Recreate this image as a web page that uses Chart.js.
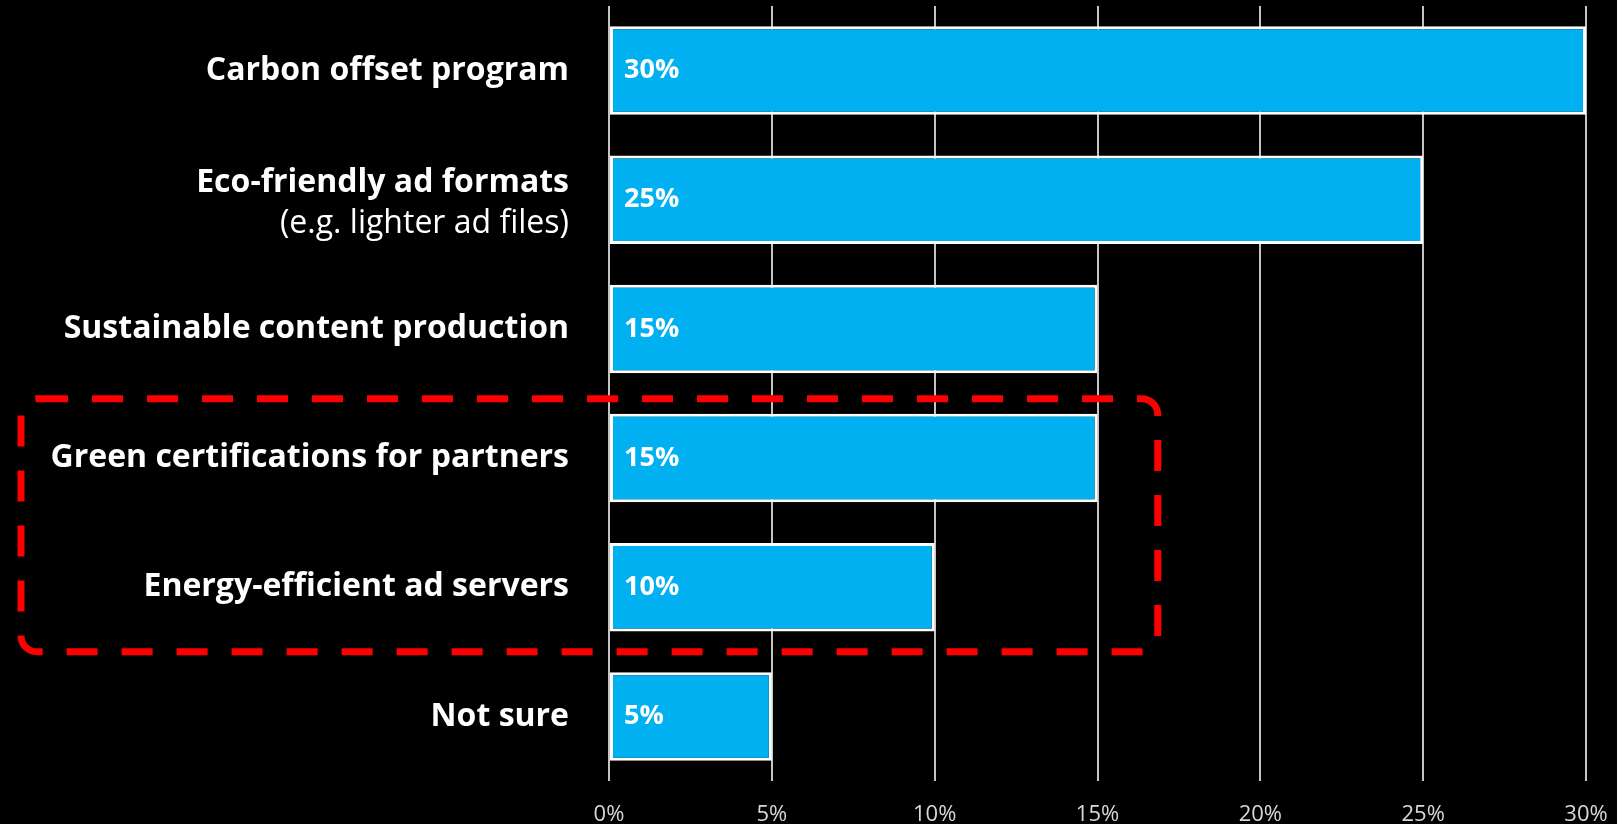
<!DOCTYPE html>
<html>
<head>
<meta charset="utf-8">
<script src="https://cdn.jsdelivr.net/npm/chart.js"></script>
<style>
  html, body { margin: 0; padding: 0; background: #000; }
  #wrap { width: 1617px; height: 824px; position: relative; }
</style>
</head>
<body>
<div id="wrap"><canvas id="chart"></canvas></div>
<script>
// 항목 이름 (첫 줄 굵게, 둘째 줄 보통)
const categories = [
  'Carbon offset program',
  'Eco-friendly ad formats',
  'Sustainable content production',
  'Green certifications for partners',
  'Energy-efficient ad servers',
  'Not sure'
];
const subLabels = ['', '(e.g. lighter ad files)', '', '', '', ''];
const shares = [30, 25, 15, 15, 10, 5];
const xTicks = [0, 5, 10, 15, 20, 25, 30];

// 강조 박스: 3, 4번째 사이 ~ 5, 6번째 사이, 오른쪽 끝 값
const highlightFrom = 2.54;
const highlightTo = 4.5;
const highlightRight = 16.85;

const FONT = "'Open Sans', 'Noto Sans', sans-serif";

/** 왼쪽 항목 라벨 그리기 */
const categoryLabels = {
  id: 'categoryLabels',
  afterDraw(chart) {
    const ctx = chart.ctx;
    const y = chart.scales.y;
    const x0 = chart.scales.x.left - 40;
    ctx.save();
    ctx.fillStyle = '#fff';
    ctx.textAlign = 'right';
    ctx.textBaseline = 'middle';
    categories.forEach((name, i) => {
      const cy = y.getPixelForValue(i);
      if (subLabels[i]) {
        ctx.font = `bold 32px ${FONT}`;
        ctx.fillText(name, x0, cy - 17);
        ctx.font = `32px ${FONT}`;
        ctx.fillText(subLabels[i], x0, cy + 24);
      } else {
        ctx.font = `bold 32px ${FONT}`;
        ctx.fillText(name, x0, cy);
      }
    });
    ctx.restore();
  }
};

/** 막대 안의 값 라벨 */
const valueLabels = {
  id: 'valueLabels',
  afterDatasetsDraw(chart) {
    const ctx = chart.ctx;
    const meta = chart.getDatasetMeta(0);
    const left = chart.scales.x.getPixelForValue(0);
    ctx.save();
    ctx.fillStyle = '#fff';
    ctx.font = `bold 27px ${FONT}`;
    ctx.textAlign = 'left';
    ctx.textBaseline = 'middle';
    meta.data.forEach((bar, i) => {
      ctx.fillText(shares[i] + '%', left + 15, bar.y);
    });
    ctx.restore();
  }
};

/** 빨간 점선 강조 박스 */
const highlightBox = {
  id: 'highlightBox',
  afterDraw(chart) {
    const ctx = chart.ctx;
    const x = chart.scales.x;
    const y = chart.scales.y;
    const left = 21;
    const right = x.getPixelForValue(highlightRight);
    const top = y.getPixelForValue(highlightFrom);
    const bottom = y.getPixelForValue(highlightTo);
    ctx.save();
    ctx.strokeStyle = '#ff0000';
    ctx.lineWidth = 7;
    ctx.setLineDash([31, 24]);
    ctx.beginPath();
    ctx.roundRect(left, top, right - left, bottom - top, 16);
    ctx.stroke();
    ctx.restore();
  }
};

new Chart(document.getElementById('chart'), {
  type: 'bar',
  data: {
    labels: categories,
    datasets: [{
      data: shares,
      backgroundColor: '#00b0f0',
      borderColor: '#ffffff',
      borderWidth: 3,
      borderSkipped: false,
      barPercentage: 0.685,
      categoryPercentage: 1
    }]
  },
  options: {
    indexAxis: 'y',
    responsive: true,
    maintainAspectRatio: false,
    animation: false,
    layout: {
      padding: { left: 609, right: 31, top: 6, bottom: 0 }
    },
    scales: {
      x: {
        min: 0,
        max: 30,
        afterBuildTicks(axis) {
          axis.ticks = xTicks.map(v => ({ value: v }));
        },
        afterFit(axis) {
          axis.height = 43;
          axis.paddingLeft = 0;
          axis.paddingRight = 0;
        },
        grid: {
          color: '#c4c4c4',
          lineWidth: 2,
          drawTicks: false
        },
        border: { display: false },
        ticks: {
          color: '#d8d8d8',
          padding: 21,
          font: { family: FONT, size: 22 },
          callback: v => v + '%'
        }
      },
      y: {
        afterFit(axis) {
          axis.width = 0;
        },
        grid: { display: false },
        border: { display: false },
        ticks: { display: false }
      }
    },
    plugins: {
      legend: { display: false },
      tooltip: { enabled: false }
    }
  },
  plugins: [categoryLabels, valueLabels, highlightBox]
});
</script>
</body>
</html>
